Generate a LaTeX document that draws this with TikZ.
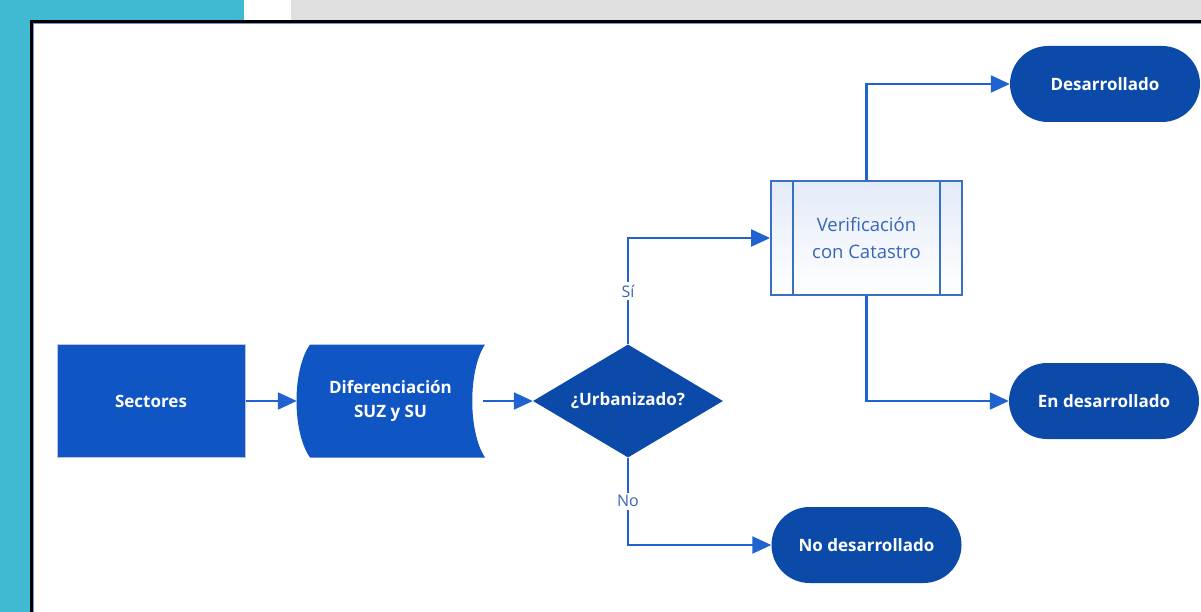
\documentclass[tikz,border=0pt]{standalone}
\usepackage{fontspec}
\setmainfont{Open Sans}
\usetikzlibrary{arrows.meta,shapes.geometric}
\definecolor{cyanband}{HTML}{40B9D2}
\definecolor{grayband}{HTML}{E0E0E0}
\definecolor{boxblue}{HTML}{0F55C4}
\definecolor{darkblue}{HTML}{0B4AA8}
\definecolor{lineblue}{HTML}{1F62D0}
\definecolor{procblue}{HTML}{3A6FC6}
\definecolor{textblue}{HTML}{3766B8}
\definecolor{frameblue}{HTML}{7C8ED0}
\definecolor{edgegray}{HTML}{B8C4DC}
\tikzset{
  whitetext/.style={text=white, font=\fontsize{17}{24}\selectfont\bfseries, align=center},
  sectorbox/.style={rectangle, fill=boxblue, draw=edgegray, line width=1pt, minimum width=188pt, minimum height=113pt, inner sep=0pt, whitetext},
  storedbox/.style={rectangle, minimum width=189pt, minimum height=113pt, inner sep=0pt, whitetext},
  decision/.style={diamond, fill=darkblue, minimum width=190pt, minimum height=113pt, inner sep=0pt},
  terminal/.style={rectangle, rounded corners=38pt, fill=darkblue, minimum width=190pt, minimum height=76pt, inner sep=0pt, whitetext},
  process/.style={rectangle, draw=procblue, line width=1.8pt, top color=white!86!procblue, bottom color=white, minimum width=191pt, minimum height=114pt, inner sep=0pt, text=textblue, font=\fontsize{18.5}{27}\selectfont, align=center},
  conn/.style={draw=lineblue, line width=2.2pt, -{Triangle[length=19pt,width=17pt]}},
  branchlabel/.style={fill=white, text=textblue, font=\fontsize{16}{19}\selectfont, inner sep=3pt}
}
\begin{document}
\begin{tikzpicture}[x=1pt,y=-1pt]
\useasboundingbox (0,0) rectangle (1201,612);
% background bands
\fill[cyanband] (0,0) rectangle (30.5,612);
\fill[cyanband] (0,0) rectangle (243.5,20);
\fill[grayband] (291,0) rectangle (1201,20);
% frame
\draw[black, line width=2.6pt] (31.6,640) -- (31.6,21.3) -- (1220,21.3);
\draw[frameblue, line width=0.9pt] (33.6,640) -- (33.6,23.3) -- (1220,23.3);

% nodes
\node[sectorbox] (sec) at (151,401) {Sectores};
\node[storedbox] (dif) at (390.5,401) {};
\fill[boxblue] (310,344.5) -- (485,344.5) .. controls (468,370) and (468,432) .. (485,457.5)
  -- (310,457.5) .. controls (292,432) and (292,370) .. (310,344.5) -- cycle;
\node[whitetext] (diftext) at (390.5,401) {Diferenciación\\SUZ y SU};
\node[decision] (dia) at (628,401) {};
\node[whitetext] (diatext) at (dia.center) {¿Urbanizado?};
\node[process] (ver) at (866.5,238) {Verificación\\con Catastro};
\draw[procblue, line width=1.8pt] ([xshift=23pt]ver.north west) -- ([xshift=23pt]ver.south west);
\draw[procblue, line width=1.8pt] ([xshift=-23pt]ver.north east) -- ([xshift=-23pt]ver.south east);
\node[terminal] (des) at (1105,84) {Desarrollado};
\node[terminal] (end) at (1104,401) {En desarrollado};
\node[terminal] (nod) at (866.5,545) {No desarrollado};

% connectors
\draw[conn] (sec.east) -- ([xshift=1pt]dif.west);
\draw[conn] ([xshift=-2pt]dif.east) -- (dia.west);
\draw[conn] (dia.north) |- (ver.west) node[pos=0.25, branchlabel] {Sí};
\draw[conn] (dia.south) |- (nod.west) node[pos=0.25, branchlabel] {No};
\draw[conn] (ver.north) |- (des.west);
\draw[conn] (ver.south) |- (end.west);
\end{tikzpicture}
\end{document}
